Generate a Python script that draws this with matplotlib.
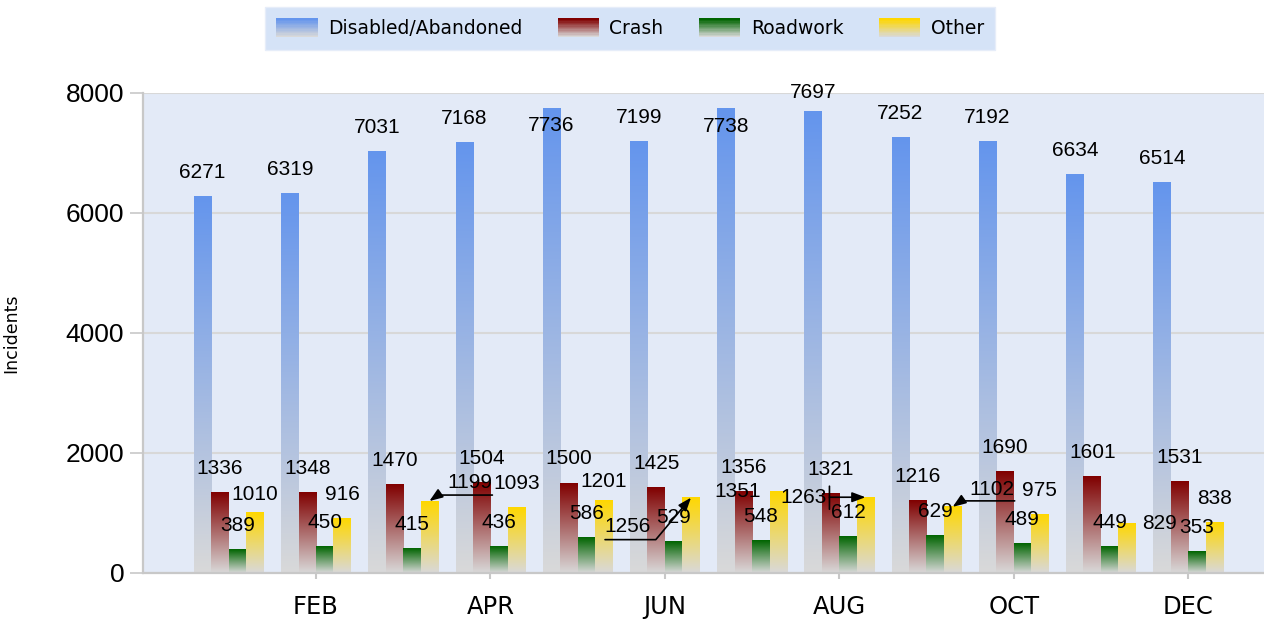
import numpy as np
import matplotlib
matplotlib.use("Agg")
import matplotlib.pyplot as plt
from matplotlib.patches import Patch, Rectangle
from matplotlib.legend_handler import HandlerBase
from matplotlib.colors import to_rgb
from matplotlib.transforms import offset_copy

# ---------------- data ----------------
months = ["JAN", "FEB", "MAR", "APR", "MAY", "JUN",
          "JUL", "AUG", "SEP", "OCT", "NOV", "DEC"]
tick_months = ["FEB", "APR", "JUN", "AUG", "OCT", "DEC"]
series_names = ["Disabled/Abandoned", "Crash", "Roadwork", "Other"]
disabled = [6271, 6319, 7031, 7168, 7736, 7199, 7738, 7697, 7252, 7192, 6634, 6514]
crash = [1336, 1348, 1470, 1504, 1500, 1425, 1356, 1321, 1216, 1690, 1601, 1531]
roadwork = [389, 450, 415, 436, 586, 529, 548, 612, 629, 489, 449, 353]
other = [1010, 916, 1199, 1093, 1201, 1256, 1351, 1263, 1102, 975, 829, 838]
yticks = [0, 2000, 4000, 6000, 8000]

# ---------------- styles ----------------
top_colors = ["#6495ED", "#800000", "#006400", "#FFD700"]
bottom_color = "#D9D9D9"
plot_bg = "#E3EAF7"
axis_gray = "#C8C8C8"
grid_gray = "#D8D8D8"
bar_w = 0.2
offsets = [-0.3, -0.1, 0.1, 0.3]

# label offsets (pixels) per (series index, month index); default (0, 24)
label_offsets = {
    (0, 4): (0, -17), (0, 6): (0, -18), (0, 7): (0, 19),
    (3, 0): (0, 18), (3, 4): (0, 19),
    (3, 2): (40, 19), (3, 5): (-63, -29), (3, 6): (-41, 0),
    (3, 7): (-62, 0), (3, 8): (39, 17), (3, 10): (32, 0),
}

W, H = 1264, 621
fig = plt.figure(figsize=(W / 100, H / 100), dpi=100)
ax = fig.add_axes([143 / W, 48 / H, (W - 143) / W, 480 / H])
ax.set_facecolor(plot_bg)

x = np.arange(len(months))
all_series = [disabled, crash, roadwork, other]


def gradient(top, bottom, n=256):
    t = np.linspace(0, 1, n)[:, None]
    a = np.array(to_rgb(top))
    b = np.array(to_rgb(bottom))
    return (a * (1 - t) + b * t)[:, None, :]


label_font = dict(family=["Liberation Sans", "DejaVu Sans"], fontsize=15, color="black")

bar_containers = []
for si, vals in enumerate(all_series):
    bars = ax.bar(x + offsets[si], vals, width=bar_w, facecolor="none",
                  edgecolor="none", zorder=2, label=series_names[si])
    bar_containers.append(bars)
    grad = gradient(top_colors[si], bottom_color)
    for rect in bars:
        x0, w, h = rect.get_x(), rect.get_width(), rect.get_height()
        ax.imshow(grad, extent=(x0, x0 + w, 0, h), aspect="auto",
                  interpolation="bilinear", zorder=2)

# data labels
for si, bars in enumerate(bar_containers):
    for mi, rect in enumerate(bars):
        bx = rect.get_x() + rect.get_width() / 2
        top = rect.get_height()
        dx, dy = label_offsets.get((si, mi), (0, 24))
        ax.annotate(f"{int(all_series[si][mi])}", xy=(bx, top), xytext=(dx, dy),
                    textcoords="offset pixels", ha="center", va="center",
                    zorder=5, **label_font)

arrow_kw = dict(arrowstyle="-|>,head_length=0.8,head_width=0.3", color="black",
                lw=1.2, shrinkA=0, shrinkB=0)


def bar_top(si, mi):
    r = bar_containers[si][mi]
    return r.get_x() + r.get_width() / 2, r.get_height()


# MAR other arrow
bx, by = bar_top(3, 2)
ax.annotate("", xy=(bx, by), xytext=(63, 6), textcoords="offset pixels",
            arrowprops=dict(arrow_kw, connectionstyle="angle,angleA=0,angleB=35,rad=0"),
            zorder=6)
# JUN other arrow (angled)
bx, by = bar_top(3, 5)
ax.annotate("", xy=(bx, by), xytext=(-86, -42), textcoords="offset pixels",
            arrowprops=dict(arrow_kw, connectionstyle="angle,angleA=0,angleB=50,rad=0"),
            zorder=6)
# AUG other arrow with tick
bx, by = bar_top(3, 7)
ax.annotate("", xy=(bx, by), xytext=(-36, 0), textcoords="offset pixels",
            arrowprops=arrow_kw, zorder=6)
tick_tr = offset_copy(ax.transData, fig=fig, x=-36, y=11, units="dots")
ax.annotate("", xy=(bx, by), xycoords=tick_tr, xytext=(0, -23), textcoords="offset pixels",
            arrowprops=dict(arrowstyle="-", color="black", lw=1.2, shrinkA=0, shrinkB=0),
            zorder=6)
# SEP other arrow
bx, by = bar_top(3, 8)
ax.annotate("", xy=(bx, by), xytext=(62, 6), textcoords="offset pixels",
            arrowprops=dict(arrow_kw, connectionstyle="angle,angleA=0,angleB=35,rad=0"),
            zorder=6)

# axes
ax.set_xlim(-0.984, 11.87)
ax.set_ylim(0, 8000)
ax.set_yticks(yticks)
ax.set_yticklabels([str(v) for v in yticks], family=["Liberation Sans", "DejaVu Sans"],
                   fontsize=19)
tick_pos = [months.index(m) for m in tick_months]
ax.set_xticks(tick_pos)
ax.set_xticklabels(tick_months, family="DejaVu Sans", fontsize=17.5)
ax.tick_params(axis="y", length=9.5, width=1.2, color=axis_gray, pad=4)
ax.tick_params(axis="x", length=4.5, width=1.5, color=axis_gray, pad=11)
ax.yaxis.grid(True, color=grid_gray, lw=1.5, zorder=0)
ax.set_axisbelow(True)
for s in ["top", "right"]:
    ax.spines[s].set_visible(False)
for s in ["left", "bottom"]:
    ax.spines[s].set_color(axis_gray)
    ax.spines[s].set_linewidth(1.6)

ax.set_ylabel("Incidents", family="DejaVu Sans", fontsize=12.5)
ax.yaxis.set_label_coords((20 - 143) / (W - 143), 0.5)


# legend with gradient handles
class GradHandler(HandlerBase):
    def __init__(self, top):
        super().__init__()
        self.top = top

    def create_artists(self, legend, orig_handle, xdescent, ydescent, width,
                       height, fontsize, trans):
        n = 14
        a = np.array(to_rgb(self.top))
        b = np.array(to_rgb(bottom_color))
        arts = []
        for k in range(n):
            t = 1 - k / (n - 1)  # k=0 bottom
            c = a * (1 - t) + b * t
            r = Rectangle((-xdescent, -ydescent + height * k / n), width,
                          height / n + 0.3, facecolor=c, edgecolor="none",
                          transform=trans)
            arts.append(r)
        return arts


handles = [Patch(label=n) for n in series_names]
hmap = {h: GradHandler(c) for h, c in zip(handles, top_colors)}
leg = fig.legend(handles=handles, labels=series_names, handler_map=hmap,
                 loc="center", bbox_to_anchor=(630 / W, 1 - 28.5 / H), ncol=4,
                 prop=dict(family="DejaVu Sans", size=13.5), frameon=True,
                 fancybox=False, facecolor="#D5E3F7", edgecolor="#E6EDF9",
                 framealpha=1, handlelength=2.2, handleheight=1.15,
                 handletextpad=0.55, columnspacing=1.9, borderpad=0.6)

fig.savefig("out.png", dpi=100)
